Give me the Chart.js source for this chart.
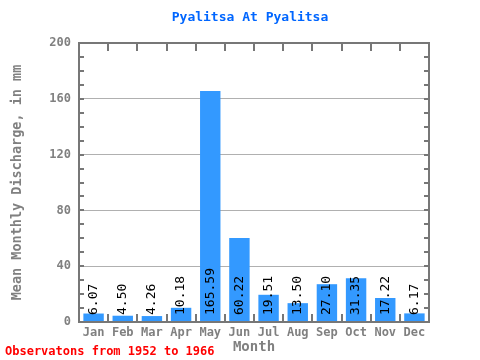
<!DOCTYPE html>
<html>
<head>
<meta charset="utf-8">
<script src="https://cdn.jsdelivr.net/npm/chart.js@4"></script>
<style>
  body { margin: 0; background: #fff; }
  #wrap { width: 480px; height: 360px; }
</style>
</head>
<body>
<div id="wrap"><canvas id="discharge-chart" width="480" height="360"></canvas></div>
<script>
const months = ['Jan', 'Feb', 'Mar', 'Apr', 'May', 'Jun', 'Jul', 'Aug', 'Sep', 'Oct', 'Nov', 'Dec'];
const discharge = [6.07, 4.50, 4.26, 10.18, 165.59, 60.22, 19.51, 13.50, 27.10, 31.35, 17.22, 6.17];
const yTicks = [0, 40, 80, 120, 160, 200];

const mono = '"DejaVu Sans Mono", monospace';

// title, frame, small ticks, value labels and the footer note
const decorations = {
    id: 'decorations',
    afterDatasetsDraw(chart) {
        const ctx = chart.ctx;
        const area = chart.chartArea;
        const y = chart.scales.y;
        ctx.save();

        // title, centred a bit right of the canvas middle like the original
        ctx.font = 'bold 13px ' + mono;
        ctx.fillStyle = '#0066ff';
        ctx.textAlign = 'center';
        ctx.textBaseline = 'middle';
        ctx.fillText('Pyalitsa At Pyalitsa', 250, 18);

        // value labels, rotated, sitting at the bar base
        const meta = chart.getDatasetMeta(0);
        ctx.font = '13px ' + mono;
        ctx.fillStyle = '#000';
        ctx.textAlign = 'left';
        ctx.textBaseline = 'middle';
        meta.data.forEach(function (bar, i) {
            ctx.save();
            ctx.translate(bar.x, area.bottom - 7);
            ctx.rotate(-Math.PI / 2);
            ctx.fillText(discharge[i].toFixed(2), 0, 0);
            ctx.restore();
        });

        // ticks
        ctx.strokeStyle = '#777';
        ctx.lineWidth = 2;
        ctx.beginPath();
        for (let v = 10; v < 200; v += 10) {
            const py = Math.round(y.getPixelForValue(v));
            ctx.moveTo(area.left, py);
            ctx.lineTo(area.left + 5, py);
            ctx.moveTo(area.right, py);
            ctx.lineTo(area.right - 5, py);
        }
        const step = (area.right - area.left) / months.length;
        for (let i = 1; i < months.length; i++) {
            const px = Math.round(area.left + step * i);
            ctx.moveTo(px, area.top);
            ctx.lineTo(px, area.top + 8);
            ctx.moveTo(px, area.bottom);
            ctx.lineTo(px, area.bottom - 8);
        }
        ctx.stroke();

        // frame
        ctx.strokeRect(area.left, area.top, area.right - area.left, area.bottom - area.top);

        // footer
        ctx.font = 'bold 12px ' + mono;
        ctx.fillStyle = '#ff0000';
        ctx.textAlign = 'left';
        ctx.textBaseline = 'middle';
        ctx.fillText('Observatons from 1952 to 1966', 5, 352);
        ctx.restore();
    }
};

const ctx = document.getElementById('discharge-chart').getContext('2d');
const myChart = new Chart(ctx, {
    type: 'bar',
    data: {
        labels: months,
        datasets: [{
            data: discharge,
            backgroundColor: '#3399ff',
            borderWidth: 0,
            categoryPercentage: 1,
            barPercentage: 0.7
        }]
    },
    options: {
        responsive: false,
        animation: false,
        layout: { padding: { left: 0, right: 51, top: 43, bottom: 0 } },
        plugins: {
            legend: { display: false },
            tooltip: { enabled: false },
            title: { display: false }
        },
        scales: {
            x: {
                grid: { display: false, drawTicks: false },
                border: { display: false },
                ticks: {
                    color: '#808080',
                    font: { family: mono, size: 12, weight: 'bold' },
                    padding: 4,
                    maxRotation: 0
                },
                title: {
                    display: true,
                    text: 'Month',
                    color: '#808080',
                    font: { family: mono, size: 14, weight: 'bold' },
                    padding: { top: 0, bottom: 4 }
                },
                afterFit(scale) { scale.height = 38; }
            },
            y: {
                min: 0,
                max: 200,
                afterBuildTicks(scale) {
                    scale.ticks = yTicks.map(function (v) { return { value: v }; });
                },
                grid: {
                    drawTicks: false,
                    color(c) {
                        return (c.tick.value === 0 || c.tick.value === 200) ? 'rgba(0,0,0,0)' : '#b0b0b0';
                    }
                },
                border: { display: false },
                ticks: {
                    color: '#808080',
                    font: { family: mono, size: 12, weight: 'bold' },
                    padding: 8
                },
                title: {
                    display: true,
                    text: 'Mean Monthly Discharge, in mm',
                    color: '#808080',
                    font: { family: mono, size: 13.5, weight: 'bold' },
                    padding: { top: 9, bottom: 0 }
                },
                afterFit(scale) { scale.width = 79; }
            }
        }
    },
    plugins: [decorations]
});
</script>
</body>
</html>
